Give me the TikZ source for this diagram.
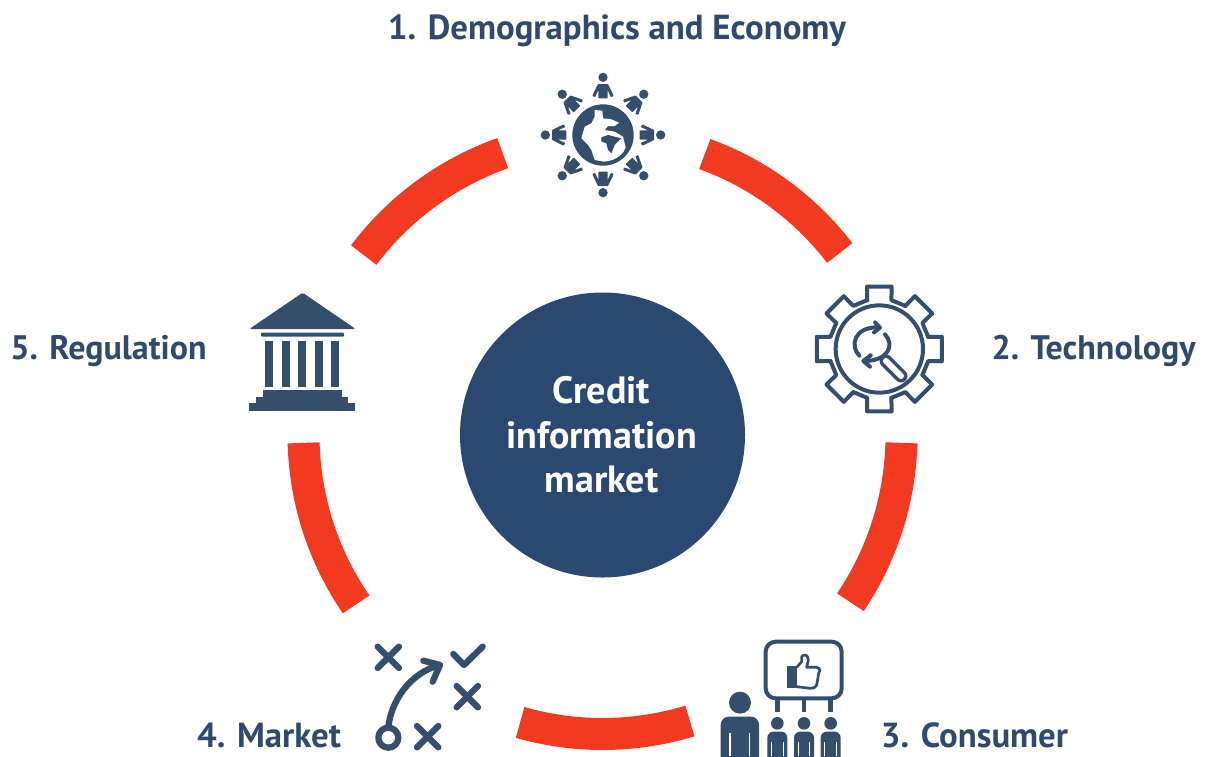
\documentclass[tikz,border=0pt]{standalone}
\usepackage{fontspec}
\setmainfont{PT Sans}
\definecolor{navy}{HTML}{2A4870}
\definecolor{ink}{HTML}{344E6B}
\definecolor{labelc}{HTML}{2F4A6D}
\definecolor{redarc}{HTML}{F23A21}
\tikzset{
  lab/.style={text=labelc,font=\fontsize{34.8}{38}\selectfont\bfseries,inner sep=0pt,anchor=center},
  labs/.style={lab,font=\fontsize{34}{38}\selectfont\bfseries},
  ctext/.style={text=white,font=\fontsize{38}{44.5}\selectfont\bfseries,align=center,inner sep=0pt},
  ringseg/.style={draw=redarc,line width=32pt,line cap=butt},
  icon/.style={scale=1/3},
  iconline/.style={draw=ink,line width=4pt,line join=round,line cap=round},
  iconthick/.style={draw=ink,line width=6.3pt,line join=round,line cap=round},
}
\begin{document}
\begin{tikzpicture}[x=1pt,y=-1pt]
\useasboundingbox (0,0) rectangle (1206,756);
\coordinate (c) at (602.5,435);
% ring segments
\begin{scope}[shift={(c)},y=1pt]
\foreach \s/\e in {70/37.5, -1.5/-34, -73/-106, 181.5/214.5, 109.5/143}{
  \draw[ringseg] (\s:299) arc[start angle=\s,end angle=\e,radius=299];
}
\end{scope}
% centre
\node[circle,fill=navy,minimum size=285pt,inner sep=0pt] (hub) at (c) {};
\node[ctext] (hubtext) at (601.5,435) {Credit\\information\\market};
% labels
\node[lab] (l1) at (617,31) {1. Demographics and Economy};
\node[labs] (l2) at (1093.5,351) {2. Technology};
\node[lab] (l3) at (974.5,735) {3. Consumer};
\node[lab] (l4) at (269,735) {4. Market};
\node[labs] (l5) at (108.5,351) {5. Regulation};
% icon 1: globe and people
\begin{scope}[shift={(603,135)},icon]
  \fill[ink] (0,0) circle[radius=92];
  \begin{scope}
    \clip (0,0) circle[radius=80];
    \fill[white] (-25,-75)--(-2,-73)--(0,-50)--(25,-47)--(48,-37)--(35,-27)--(15,-27)--(5,-15)--(35,-10)--(60,5)--(68,37)--(55,65)--(20,83)--(-25,75)--(-35,45)--(-45,30)--(-65,10)--(-55,-25)--(-35,-35)--(-25,-55)--cycle;
    \fill[ink] (-5,7)--(15,0)--(55,10)--(35,30)--(25,55)--(15,45)--(10,25)--(-5,20)--cycle;
  \end{scope}
  \foreach \a in {0,45,...,315}{
    \begin{scope}[rotate=\a]
      \fill[ink] (0,-173) circle[radius=14];
      \fill[ink,rounded corners=0.6pt] (-15,-153)--(15,-153)--(32,-118)--(24,-113)--(14,-135)--(14,-110)--(-14,-110)--(-14,-135)--(-24,-113)--(-32,-118)--cycle;
    \end{scope}
  }
\end{scope}
% icon 2: gear
\begin{scope}[shift={(800,275)},icon]
  \begin{scope}[shift={(238,222)}]
    \foreach \a in {0,45,...,315}{
      \draw[iconline] (\a-13.9:151)--(\a-11.1:191)--(\a+11.1:191)--(\a+13.9:151)--(\a+31.1:151);
    }
    \draw[iconline] (0,0) circle[radius=131];
  \end{scope}
  \draw[iconline] (178,242) .. controls (150,215) and (160,155) .. (235,157);
  \draw[iconline] (225,142)--(240,158)--(222,172);
  \draw[iconline] (255,178) .. controls (285,210) and (265,258) .. (192,258);
  \draw[iconline] (212,241)--(190,258)--(210,275);
  \draw[ink,line width=13pt,line cap=round] (258,258)--(303,303);
  \draw[white,line width=6pt,line cap=round] (258,258)--(303,303);
\end{scope}
% icon 3: consumer
\begin{scope}[shift={(700,630)},icon]
  \draw[iconline,rounded corners=10pt] (197,35) rectangle (425,205);
  \foreach \x in {232,312,392}{
    \fill[ink] (\x-7,205) rectangle (\x+7,247);
    \fill[ink] (\x,280) circle[radius=19];
    \fill[ink,rounded corners=6pt] (\x-30,410)--(\x-30,305)--(\x+30,305)--(\x+30,410)--cycle;
    \fill[white] (\x-19,335) rectangle (\x-16,378);
    \fill[white] (\x+16,335) rectangle (\x+19,378);
  }
  \fill[ink] (120,218) circle[radius=33];
  \fill[ink,rounded corners=8pt] (62,410)--(62,260)--(177,260)--(177,410)--cycle;
  \fill[white] (88,310) rectangle (92,378);
  \fill[white] (147,310) rectangle (151,378);
  \fill[ink] (262,108) rectangle (290,175);
  \draw[draw=ink,line width=2.7pt,line join=round] (290,112) -- (305,95) -- (305,80) .. controls (312,70) and (325,75) .. (325,90) -- (320,112) -- (350,112) .. controls (362,115) and (362,125) .. (356,130) -- (350,165) .. controls (345,175) and (335,175) .. (330,175) -- (290,170);
\end{scope}
% icon 4: market
\begin{scope}[shift={(360,630)},icon]
  \foreach \x/\y in {85/82,322/200,203/320}{
    \draw[iconthick] (\x-32,\y-32)--(\x+32,\y+32) (\x-32,\y+32)--(\x+32,\y-32);
  }
  \draw[iconthick] (280,72)--(312,105)--(368,50);
  \draw[iconthick] (85,323) circle[radius=30];
  \draw[iconthick] (85,290) .. controls (95,210) and (150,130) .. (238,105);
  \draw[iconthick] (190,92)--(240,105)--(218,155);
\end{scope}
% icon 5: regulation
\begin{scope}[shift={(235,280)},icon]
  \fill[ink,rounded corners=1.5pt] (203,38)--(362,147)--(43,147)--cycle;
  \fill[ink,rounded corners=1pt] (78,158) rectangle (327,170);
  \foreach \x in {90,140,190,240,289}{
    \fill[ink] (\x,182) rectangle (\x+24,322);
  }
  \fill[ink] (83,330) rectangle (320,352);
  \fill[ink] (63,350) rectangle (340,372);
  \fill[ink] (43,370) rectangle (360,393);
\end{scope}
\end{tikzpicture}
\end{document}
